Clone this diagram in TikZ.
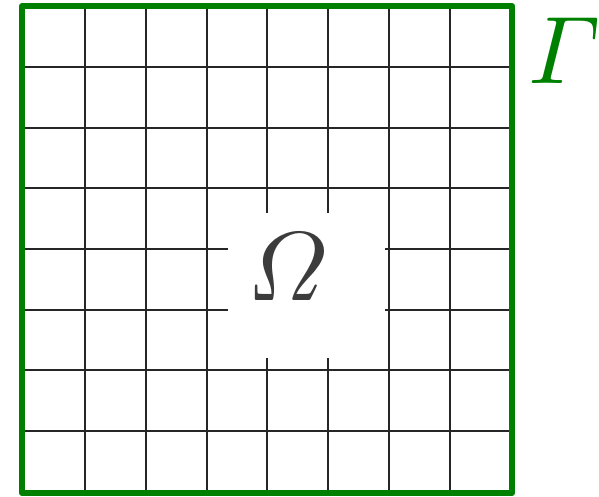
\documentclass[tikz,border=0pt]{standalone}
\usepackage{graphicx}
\usepackage{amsmath}
\begin{document}
\begin{tikzpicture}[x=1pt,y=-1pt,
  gridline/.style={line width=1.6pt,black!85},
  boundary/.style={line width=6pt,draw={rgb,255:red,0;green,128;blue,0},line join=round},
  lbl/.style={inner sep=0pt}]
\useasboundingbox (0,0) rectangle (599,496);
% vertical grid lines
\foreach \x in {85,146,207,389,450}
  \draw[gridline] (\x,6) -- (\x,493);
\foreach \x in {267,328}{
  \draw[gridline] (\x,6) -- (\x,213);
  \draw[gridline] (\x,358) -- (\x,493);
}
% horizontal grid lines
\foreach \y in {67,128,188,370,431}
  \draw[gridline] (22,\y) -- (512,\y);
\foreach \y in {249,310}{
  \draw[gridline] (22,\y) -- (228,\y);
  \draw[gridline] (385,\y) -- (512,\y);
}
% boundary
\draw[boundary] (22,6) rectangle (512,493);
% labels
\node[lbl,text={rgb,255:red,60;green,60;blue,60}] (omega) at (288,267)
  {\scalebox{9.8}{$\varOmega$}};
\node[lbl,text={rgb,255:red,0;green,128;blue,0}] (gamma) at (565,51)
  {\scalebox{9.6}{$\varGamma$}};
\end{tikzpicture}
\end{document}
